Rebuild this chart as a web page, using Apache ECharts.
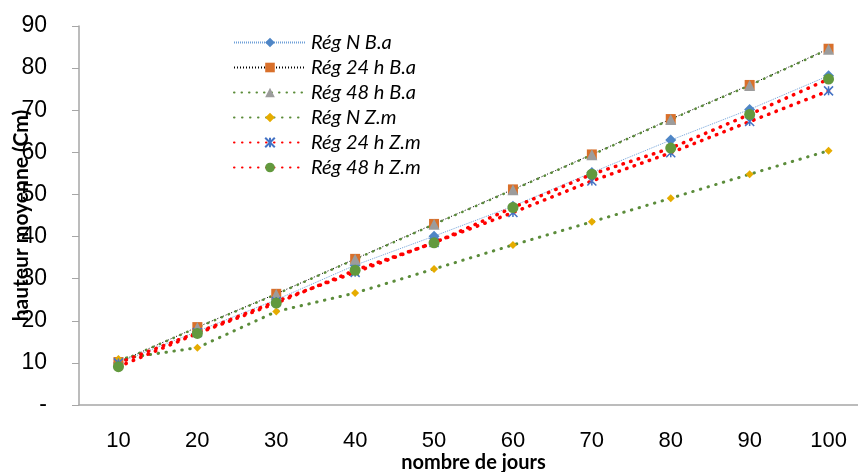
<!DOCTYPE html>
<html>
<head>
<meta charset="utf-8">
<script src="https://cdn.jsdelivr.net/npm/echarts@6/dist/echarts.min.js"></script>
<style>
  html, body { margin: 0; padding: 0; background: #fff; }
  #chart { width: 858px; height: 472px; }
</style>
</head>
<body>
<div id="chart"></div>
<script>
// jours
var days = ['10', '20', '30', '40', '50', '60', '70', '80', '90', '100'];

// hauteur moyenne (Cm) par régime
var regN_Ba   = [10.0, 17.5, 25.0, 33.2, 40.1, 47.2, 55.2, 62.9, 70.2, 78.2];
var reg24_Ba  = [10.2, 18.5, 26.4, 34.7, 43.0, 51.2, 59.5, 67.9, 76.0, 84.6];
var reg48_Ba  = [10.2, 18.4, 26.3, 34.6, 42.9, 51.1, 59.4, 67.8, 75.9, 84.5];
var regN_Zm   = [10.9, 13.6, 22.2, 26.6, 32.3, 38.0, 43.5, 49.1, 54.8, 60.4];
var reg24_Zm  = [10.0, 17.2, 24.6, 31.5, 38.6, 45.7, 53.2, 59.9, 67.3, 74.6];
var reg48_Zm  = [9.1, 17.0, 24.2, 32.0, 38.5, 46.9, 54.8, 61.0, 69.0, 77.4];

var xMark = 'path://M0,0 L10,10 M10,0 L0,10 M5,0 L5,10';

// ligne pointillée (points ronds)
function dots(color, width, gap) {
  return { color: color, width: width, type: [0.5, gap], cap: 'round' };
}

var chart = echarts.init(document.getElementById('chart'));

var option = {
  animation: false,
  grid: { left: 79, top: 26, right: -10, bottom: 67, outerBoundsMode: 'none', containLabel: false },
  legend: {
    orient: 'vertical',
    left: 228,
    top: 27,
    itemWidth: 72,
    itemHeight: 12,
    itemGap: 4,
    textStyle: { fontFamily: 'Lato', fontStyle: 'italic', fontSize: 20, lineHeight: 21, color: '#000' }
  },
  xAxis: {
    type: 'category',
    data: days,
    boundaryGap: true,
    name: 'nombre de jours',
    nameLocation: 'middle',
    nameGap: 48,
    nameMoveOverlap: false,
    nameTextStyle: { fontFamily: 'Lato', fontWeight: 'bold', fontSize: 20, color: '#000' },
    axisLine: { lineStyle: { color: '#a6a6a6', width: 1.5 } },
    axisTick: { show: false },
    axisLabel: { margin: 25, fontFamily: 'Liberation Sans', fontSize: 22, color: '#000' },
    splitLine: { show: false }
  },
  yAxis: {
    type: 'value',
    min: 0,
    max: 90,
    interval: 10,
    name: 'hauteur moyenne (Cm)',
    nameLocation: 'middle',
    nameGap: 47,
    nameRotate: 90,
    nameMoveOverlap: false,
    nameTextStyle: { fontFamily: 'Lato', fontWeight: 'bold', fontSize: 21, color: '#000' },
    axisLine: { show: true, lineStyle: { color: '#a6a6a6', width: 1.5 } },
    axisTick: { show: true, length: 7, lineStyle: { color: '#a6a6a6' } },
    axisLabel: {
      margin: 32,
      fontFamily: 'Liberation Sans',
      fontSize: 23,
      color: '#000',
      formatter: function (v) { return v === 0 ? '-' : v; }
    },
    splitLine: { show: false }
  },
  series: [
    {
      name: 'Rég N B.a', type: 'line', data: regN_Ba,
      symbol: 'diamond', symbolSize: 11,
      itemStyle: { color: '#4f86c6' },
      lineStyle: { color: '#6fa0d8', width: 1, type: [1, 1] }
    },
    {
      name: 'Rég 24 h B.a', type: 'line', data: reg24_Ba,
      symbol: 'rect', symbolSize: 10,
      itemStyle: { color: '#d9702b' },
      lineStyle: { color: '#000', width: 1, type: [1, 2] }
    },
    {
      name: 'Rég 48 h B.a', type: 'line', data: reg48_Ba,
      symbol: 'triangle', symbolSize: 11,
      itemStyle: { color: '#9c9c9c' },
      lineStyle: dots('#5b8c3a', 2.5, 7)
    },
    {
      name: 'Rég N Z.m', type: 'line', data: regN_Zm,
      symbol: 'diamond', symbolSize: 8,
      itemStyle: { color: '#e6ac00' },
      lineStyle: dots('#5b8c3a', 3, 7.5)
    },
    {
      name: 'Rég 24 h Z.m', type: 'line', data: reg24_Zm,
      symbol: xMark, symbolSize: 9,
      itemStyle: { color: '#4472c4', borderColor: '#4472c4', borderWidth: 1.5 },
      lineStyle: dots('#ff0000', 3.5, 7.5)
    },
    {
      name: 'Rég 48 h Z.m', type: 'line', data: reg48_Zm,
      symbol: 'circle', symbolSize: 11,
      itemStyle: { color: '#62993e' },
      lineStyle: dots('#ff0000', 3.5, 7.5)
    }
  ]
};

chart.setOption(option);
</script>
</body>
</html>
